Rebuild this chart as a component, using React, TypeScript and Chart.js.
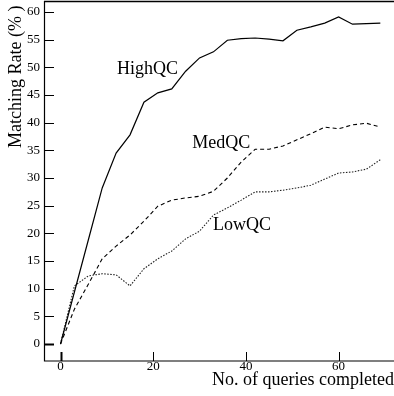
import { useEffect, useRef } from "react";
import { Chart, registerables } from "chart.js";

Chart.register(...registerables);

const queries = [0, 3, 6, 9, 12, 15, 18, 21, 24, 27, 30, 33, 36, 39, 42, 45, 48, 51, 54, 57, 60, 63, 66, 69];
const highQC = [0, 9.4, 18.8, 28.2, 34.5, 37.8, 43.7, 45.4, 46.1, 49.3, 51.7, 52.8, 54.9, 55.2, 55.3, 55.1, 54.8, 56.7, 57.3, 58.0, 59.1, 57.8, 57.9, 58.0];
const medQC = [0, 6.3, 10.8, 15.4, 17.7, 19.7, 22.2, 24.9, 26.0, 26.4, 26.7, 27.6, 30.0, 32.9, 35.2, 35.2, 35.8, 36.9, 38.0, 39.2, 38.9, 39.6, 39.9, 39.2];
const lowQC = [0, 10.5, 12.3, 12.7, 12.5, 10.5, 13.6, 15.4, 16.8, 19.0, 20.4, 23.3, 24.6, 26.0, 27.5, 27.5, 27.8, 28.2, 28.7, 29.8, 30.9, 31.1, 31.6, 33.3];
const seriesNames = ["HighQC", "MedQC", "LowQC"];
const xTickValues = [0, 20, 40, 60];
const yTickValues = [0, 5, 10, 15, 20, 25, 30, 35, 40, 45, 50, 55, 60];
const xTitle = "No. of queries completed";
const yTitle = "Matching Rate (% )";

// label anchor points (data units, left/baseline)
const labelAnchors = [
  { x: 12.2, y: 48.8 },
  { x: 28.4, y: 35.4 },
  { x: 32.9, y: 20.6 },
];

const SERIF = '"Liberation Serif", "DejaVu Serif", serif';

export default function App() {
  const ref = useRef<HTMLCanvasElement | null>(null);

  useEffect(() => {
    const canvas = ref.current;
    if (!canvas) return;

    const decor = {
      id: "decor",
      afterDraw(chart: any) {
        const ctx = chart.ctx;
        const area = chart.chartArea;
        const xs = chart.scales.x;
        const ys = chart.scales.y;
        ctx.save();
        ctx.strokeStyle = "#000";
        // frame: top, left, bottom
        ctx.lineWidth = 1.5;
        ctx.beginPath();
        ctx.moveTo(area.left, area.top + 0.5);
        ctx.lineTo(area.right, area.top + 0.5);
        ctx.stroke();
        ctx.lineWidth = 1.2;
        ctx.beginPath();
        ctx.moveTo(area.left + 0.5, area.top);
        ctx.lineTo(area.left + 0.5, area.bottom + 1);
        ctx.lineTo(area.right, area.bottom + 1);
        ctx.stroke();
        // inward tick marks
        yTickValues.forEach((v) => {
          const py = Math.round(ys.getPixelForValue(v)) + 0.5;
          ctx.lineWidth = v === 0 ? 2 : 1;
          ctx.beginPath();
          ctx.moveTo(area.left, py);
          ctx.lineTo(area.left + 10, py);
          ctx.stroke();
        });
        xTickValues.forEach((v) => {
          const px = Math.round(xs.getPixelForValue(v)) + 0.5;
          ctx.lineWidth = v === 0 ? 2 : 1;
          ctx.beginPath();
          ctx.moveTo(px, area.bottom + 1);
          ctx.lineTo(px, area.bottom - 8);
          ctx.stroke();
        });
        // series labels
        ctx.fillStyle = "#000";
        ctx.font = `18px ${SERIF}`;
        ctx.textAlign = "left";
        ctx.textBaseline = "alphabetic";
        seriesNames.forEach((name, i) => {
          const a = labelAnchors[i];
          ctx.fillText(name, xs.getPixelForValue(a.x), ys.getPixelForValue(a.y));
        });
        // axis titles
        ctx.textAlign = "right";
        ctx.fillText(xTitle, chart.width, 385);
        ctx.translate(21, 148);
        ctx.rotate(-Math.PI / 2);
        ctx.textAlign = "left";
        ctx.fillText(yTitle, 0, 0);
        ctx.restore();
      },
    };

    const chart = new Chart(canvas, {
      type: "line",
      data: {
        datasets: [
          {
            label: seriesNames[0],
            data: queries.map((q, i) => ({ x: q, y: highQC[i] })),
            borderColor: "#000",
            borderWidth: 1.2,
            pointRadius: 0,
            tension: 0,
          },
          {
            label: seriesNames[1],
            data: queries.map((q, i) => ({ x: q, y: medQC[i] })),
            borderColor: "#000",
            borderWidth: 1.1,
            borderDash: [4, 3],
            pointRadius: 0,
            tension: 0,
          },
          {
            label: seriesNames[2],
            data: queries.map((q, i) => ({ x: q, y: lowQC[i] })),
            borderColor: "#222",
            borderWidth: 1.1,
            borderDash: [1.5, 1.5],
            pointRadius: 0,
            tension: 0,
          },
        ],
      },
      options: {
        animation: false,
        responsive: false,
        maintainAspectRatio: false,
        layout: { padding: { top: 1, right: 0, left: 0, bottom: 0 } },
        plugins: {
          legend: { display: false },
          tooltip: { enabled: false },
        },
        scales: {
          x: {
            type: "linear",
            min: -3.56,
            max: 71.95,
            afterBuildTicks: (s: any) => {
              s.ticks = xTickValues.map((v) => ({ value: v }));
            },
            afterFit: (s: any) => {
              s.height = 36;
              s.paddingLeft = 0;
              s.paddingRight = 0;
            },
            grid: { display: false, drawTicks: false },
            border: { display: false },
            ticks: {
              padding: -1,
              font: { family: SERIF, size: 13 },
              color: "#000",
              maxRotation: 0,
            },
          },
          y: {
            type: "linear",
            min: -2.89,
            max: 61.99,
            afterBuildTicks: (s: any) => {
              s.ticks = yTickValues.map((v) => ({ value: v }));
            },
            afterFit: (s: any) => {
              s.width = 44;
              s.paddingTop = 0;
              s.paddingBottom = 0;
            },
            grid: { display: false, drawTicks: false },
            border: { display: false },
            ticks: {
              padding: 4,
              font: { family: SERIF, size: 13 },
              color: "#000",
            },
          },
        },
      },
      plugins: [decor],
    });

    return () => chart.destroy();
  }, []);

  return (
    <div style={{ position: "absolute", left: 0, top: 0, width: 394, height: 396, background: "#fff" }}>
      <canvas ref={ref} width={394} height={396} style={{ display: "block", width: 394, height: 396 }} />
    </div>
  );
}
